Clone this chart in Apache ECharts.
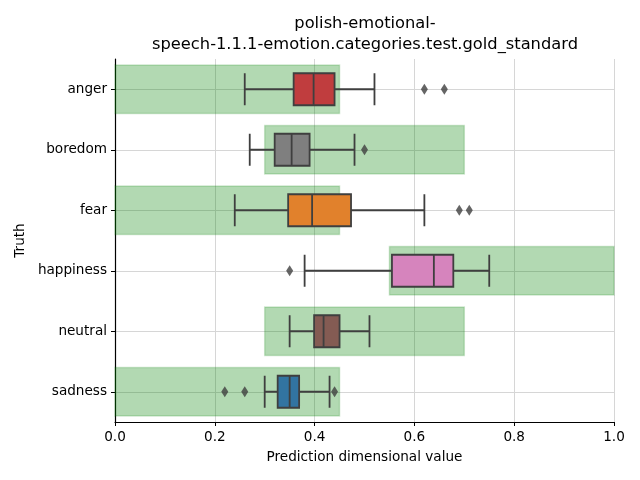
<!DOCTYPE html>
<html>
<head>
<meta charset="utf-8">
<script src="https://cdn.jsdelivr.net/npm/echarts@6/dist/echarts.min.js"></script>
<style>html,body{margin:0;padding:0;background:#fff}#c{width:640px;height:480px}</style>
</head>
<body>
<div id="c"></div>
<script>
var categories = ['anger', 'boredom', 'fear', 'happiness', 'neutral', 'sadness'];
// [whiskerLow, Q1, median, Q3, whiskerHigh]
var boxValues = [
  [0.26, 0.358, 0.398, 0.440, 0.52],
  [0.27, 0.320, 0.354, 0.390, 0.48],
  [0.24, 0.347, 0.395, 0.473, 0.62],
  [0.38, 0.555, 0.639, 0.678, 0.75],
  [0.35, 0.399, 0.418, 0.450, 0.51],
  [0.30, 0.326, 0.350, 0.369, 0.43]
];
var boxColors = ['#c03d3e', '#7f7f7f', '#e1812c', '#d684bd', '#845b53', '#3274a1'];
// outliers: [value, categoryIndex]
var outliers = [
  [0.62, 0], [0.66, 0],
  [0.50, 1],
  [0.69, 2], [0.71, 2],
  [0.35, 3],
  [0.22, 5], [0.26, 5], [0.44, 5]
];
// gold-standard ranges: [start, end, categoryIndex]
var ranges = [
  [0.0, 0.45, 0],
  [0.3, 0.70, 1],
  [0.0, 0.45, 2],
  [0.55, 1.0, 3],
  [0.3, 0.70, 4],
  [0.0, 0.45, 5]
];
var xTicks = [0, 0.2, 0.4, 0.6, 0.8, 1.0];

var chart = echarts.init(document.getElementById('c'), null, {renderer: 'canvas'});
var font = 'DejaVu Sans';
chart.setOption({
  animation: false,
  backgroundColor: '#ffffff',
  title: {
    text: 'polish-emotional-\nspeech-1.1.1-emotion.categories.test.gold_standard',
    left: 360, top: 8, textAlign: 'center',
    textStyle: {fontFamily: font, fontSize: 16.3, fontWeight: 'normal', color: '#000', lineHeight: 21}
  },
  grid: {left: 115, right: 26, top: 59, bottom: 58, containLabel: false},
  xAxis: {
    type: 'value', min: 0, max: 1, interval: 0.2,
    name: 'Prediction dimensional value', nameLocation: 'middle', nameGap: 28,
    nameTextStyle: {fontFamily: font, fontSize: 13.6, color: '#000'},
    axisLine: {show: true, lineStyle: {color: '#000', width: 1.2}},
    axisTick: {show: true, length: 4, lineStyle: {color: '#000', width: 1}},
    axisLabel: {fontFamily: font, fontSize: 13.6, color: '#000', margin: 8,
      formatter: function (v) { return v.toFixed(1); }},
    splitLine: {show: true, lineStyle: {color: '#d6d6d6', width: 1}}
  },
  yAxis: {
    type: 'category', data: categories, inverse: true,
    name: 'Truth', nameLocation: 'middle', nameGap: 88,
    nameTextStyle: {fontFamily: font, fontSize: 13.6, color: '#000'},
    axisLine: {show: true, lineStyle: {color: '#000', width: 1.2}},
    axisTick: {show: true, length: 4, alignWithLabel: true, lineStyle: {color: '#000', width: 1}},
    axisLabel: {fontFamily: font, fontSize: 13.6, color: '#000', margin: 8},
    splitLine: {show: true, alignWithLabel: true, lineStyle: {color: '#d6d6d6', width: 1}}
  },
  series: [
    {
      type: 'custom',
      z: 1,
      data: ranges,
      encode: {x: [0, 1], y: 2},
      renderItem: function (params, api) {
        var s = api.coord([api.value(0), api.value(2)]);
        var e = api.coord([api.value(1), api.value(2)]);
        var h = api.size([0, 1])[1] * 0.8;
        return {
          type: 'rect',
          shape: {x: s[0], y: s[1] - h / 2, width: e[0] - s[0], height: h},
          style: {fill: 'rgba(0,128,0,0.3)', stroke: 'rgba(0,128,0,0.18)', lineWidth: 1.5}
        };
      }
    },
    {
      type: 'boxplot',
      z: 3,
      boxWidth: [32, 32],
      itemStyle: {borderColor: '#3f3f3f', borderWidth: 1.8},
      data: boxValues.map(function (v, i) {
        return {value: v, itemStyle: {color: boxColors[i], borderColor: '#3f3f3f', borderWidth: 1.8}};
      })
    },
    {
      type: 'scatter',
      z: 4,
      symbol: 'diamond',
      symbolSize: [7, 11],
      itemStyle: {color: '#3f3f3f'},
      data: outliers
    }
  ]
});
</script>
</body>
</html>
